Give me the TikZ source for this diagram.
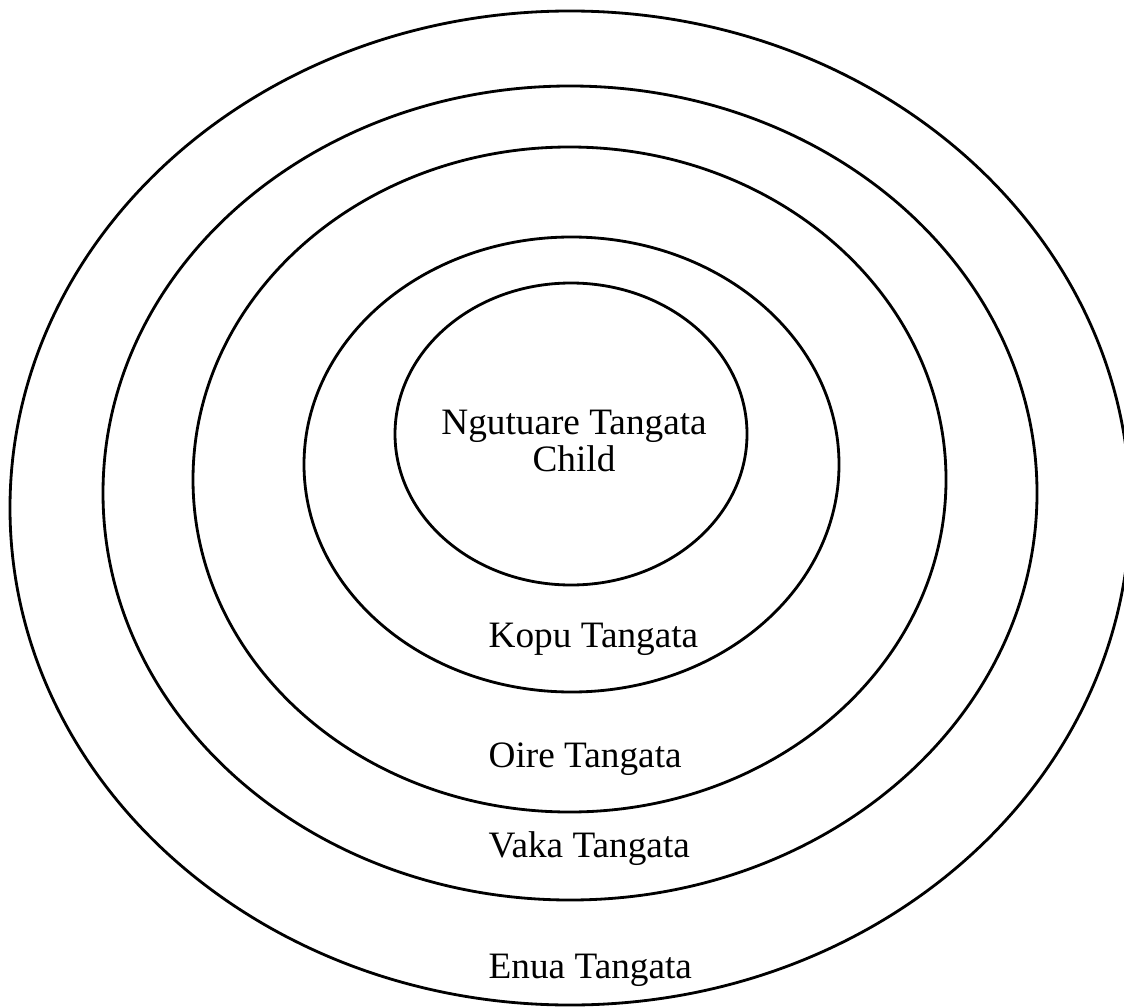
\documentclass[tikz,border=0pt]{standalone}
\usepackage{fontspec}
\setmainfont{Liberation Serif}
\usepackage{tikz}
\usetikzlibrary{positioning}

\tikzset{
    ring/.style={line width=0.8pt, black},
    lbl/.style={inner sep=0pt, font=\fontsize{10.6}{10.6}\selectfont}
}

\begin{document}
\begin{tikzpicture}
    \useasboundingbox (0,0) rectangle (11.24,10.07);

    % حلقه‌ها
    \foreach \cx/\cy/\rx/\ry in {5.71/5.73/1.76/1.51, 5.715/5.425/2.675/2.275,
        5.695/5.275/3.765/3.325, 5.70/5.14/4.67/4.07, 5.70/4.99/5.60/4.97} {
        \draw[ring] (\cx,\cy) ellipse [x radius=\rx, y radius=\ry];
    }

    % برچسب‌ها
    \node[lbl, align=center] (child) at (5.74,5.66) {Ngutuare Tangata\\Child};
    \node[lbl, anchor=base west] (kopu) at (4.88,3.60) {Kopu Tangata};
    \node[lbl, anchor=base west] (oire) at (4.88,2.40) {Oire Tangata};
    \node[lbl, anchor=base west] (vaka) at (4.88,1.50) {Vaka Tangata};
    \node[lbl, anchor=base west] (enua) at (4.88,0.29) {Enua Tangata};
\end{tikzpicture}
\end{document}
